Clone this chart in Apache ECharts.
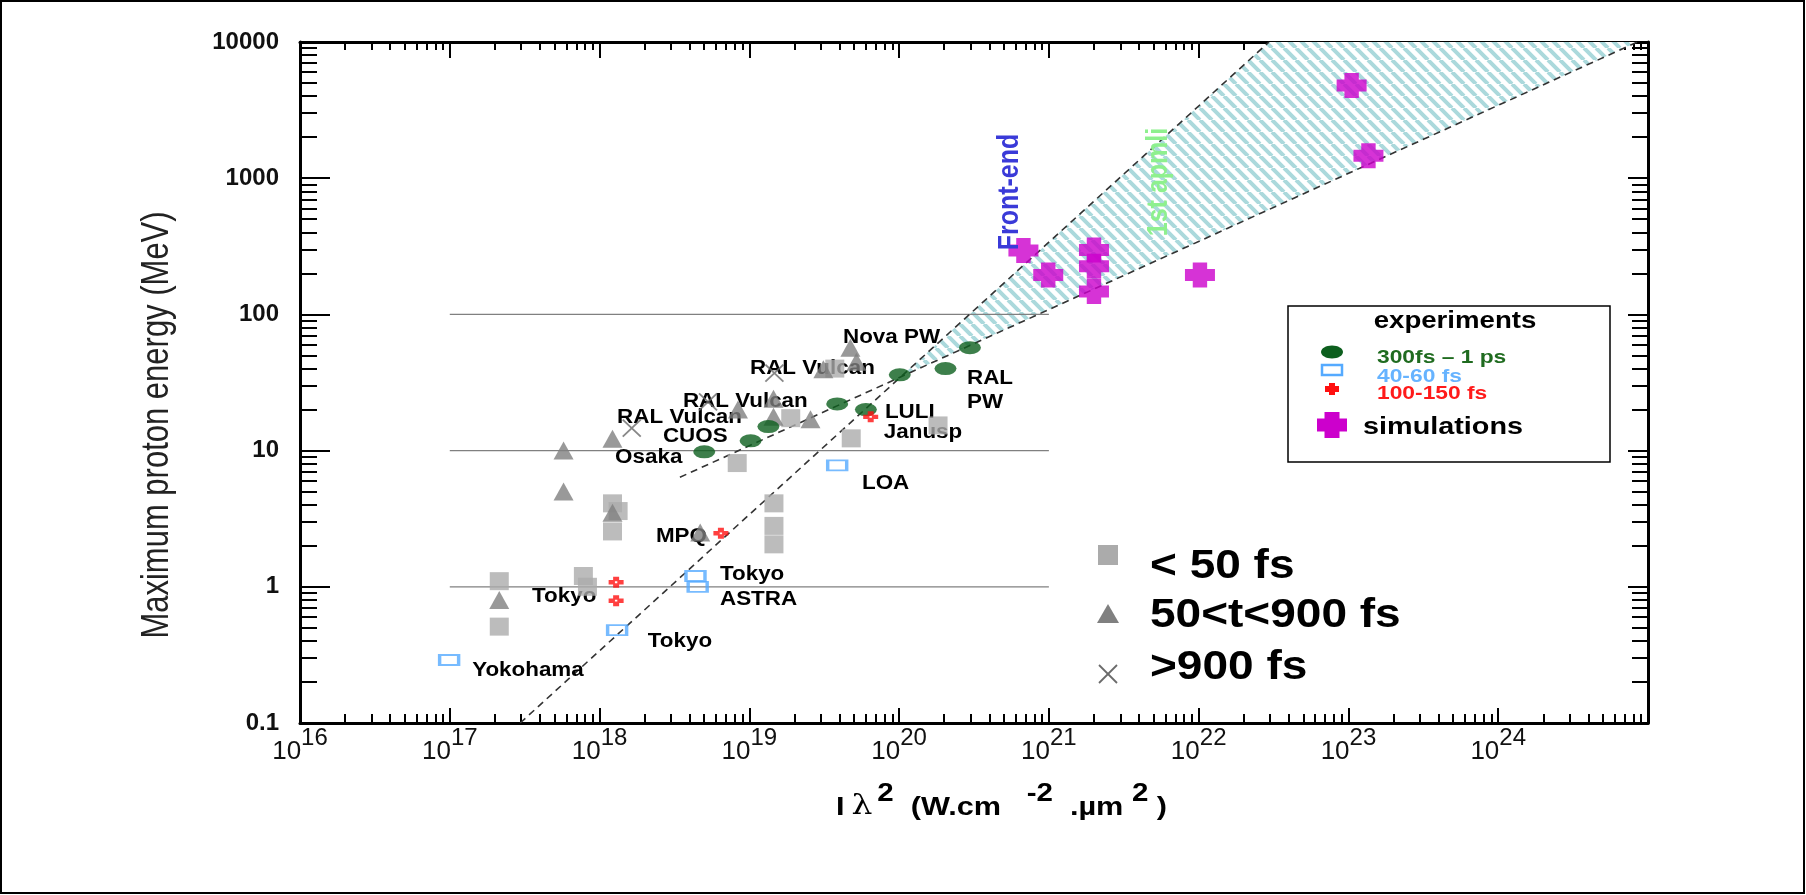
<!DOCTYPE html>
<html>
<head>
<meta charset="utf-8">
<title>Maximum proton energy</title>
<script src="https://cdn.jsdelivr.net/npm/echarts@6/dist/echarts.min.js"></script>
<style>
  html, body { margin: 0; padding: 0; background: #fff; }
  #chart { width: 1806px; height: 895px; }
</style>
</head>
<body>
<div id="chart"></div>
<script>
// values: [I.lambda^2 (W.cm-2.um2), max proton energy (MeV)]
var shortPulse = [ // < 50 fs
  [2.14e17, 1.1], [2.14e17, 0.51], [7.8e17, 1.2], [8.3e17, 1.0],
  [1.22e18, 4.1], [1.33e18, 3.6], [1.22e18, 2.55], [8.3e18, 8.1],
  [1.46e19, 4.1], [1.46e19, 2.8], [1.46e19, 2.05], [3.72e19, 40],
  [1.89e19, 17.3], [4.79e19, 12.3], [1.82e20, 15.3]
];
var midPulse = [ // 50<t<900 fs
  [2.14e17, 0.8], [5.75e17, 10], [5.75e17, 5.0], [1.22e18, 12.2], [1.22e18, 3.5],
  [4.7e18, 2.5], [8.4e18, 20], [1.45e19, 24], [1.45e19, 17.7], [2.56e19, 17],
  [3.12e19, 39.5], [4.73e19, 57], [5.19e19, 45]
];
var longPulse = [[1.64e18, 14.6], [5.3e18, 22.8], [1.47e19, 37]]; // >900 fs
var exp300fs = [[5.0e18, 9.8], [1.02e19, 11.8], [1.34e19, 15], [3.86e19, 22],
  [6.0e19, 20], [1.01e20, 36], [2.04e20, 40], [2.97e20, 57]];
var exp40fs = [[9.9e16, 0.29], [1.31e18, 0.48], [4.37e18, 1.2], [4.52e18, 1.0], [3.86e19, 7.8]];
var exp100fs = [[1.29e18, 1.08], [1.29e18, 0.79], [6.46e18, 2.47], [6.46e19, 17.7]];
var simulations = [[6.76e20, 294], [9.9e20, 195], [2.0e21, 297], [2.0e21, 226],
  [2.0e21, 147], [1.02e22, 195], [1.05e23, 4800], [1.36e23, 1460]];

// scaling lines and the hatched band between them
var lineLinear = [[2.95e17, 0.1], [2.95e22, 10000]];
var lineSqrt = [[3.44e18, 6.37], [8.5e24, 10000]];
var band = [[1.026e20, 34.8], [2.95e22, 10000], [8.5e24, 10000]];

// thin reference lines at 1, 10, 100 MeV
var refLevels = [1, 10, 100];
var refRange = [1e17, 1e21];

// annotations: [text, x, y] (left edge, vertical middle)
var labels = [
  ['Nova PW', 4.22e19, 68.2], ['RAL Vulcan', 1.01e19, 40.4], ['RAL Vulcan', 3.6e18, 23.1],
  ['RAL Vulcan', 1.31e18, 17.6], ['CUOS', 2.65e18, 12.6], ['Osaka', 1.27e18, 8.83],
  ['RAL', 2.84e20, 34.1], ['PW', 2.84e20, 22.4], ['LULI', 8.04e19, 18.9],
  ['Janusp', 7.9e19, 13.5], ['LOA', 5.65e19, 5.78], ['MPQ', 2.38e18, 2.36],
  ['Tokyo', 6.37e18, 1.24], ['ASTRA', 6.37e18, 0.81], ['Tokyo', 3.54e17, 0.855],
  ['Tokyo', 2.1e18, 0.394], ['Yokohama', 1.41e17, 0.241]
];

var FONT = '"Liberation Sans", Arial, sans-serif';

function stripes() {
  var s = 12, c = document.createElement('canvas');
  c.width = s; c.height = s;
  var g = c.getContext('2d');
  g.fillStyle = '#fff';
  g.fillRect(0, 0, s, s);
  g.strokeStyle = '#abd9dc';
  g.lineWidth = 4;
  g.beginPath();
  [-s, 0, s].forEach(function (k) { g.moveTo(k, 0); g.lineTo(k + s, s); });
  g.stroke();
  return c;
}
var stripeImg = stripes();

var myChart = echarts.init(document.getElementById('chart'));

function logAxis(pos, min, max, tickLen, minorLen, labels) {
  var ax = {
    type: 'log', logBase: 10, min: min, max: max, interval: 1,
    position: pos,
    axisLine: { show: true, onZero: false, lineStyle: { color: '#000', width: 3 } },
    axisTick: { show: true, inside: true, length: tickLen, lineStyle: { color: '#000', width: 2 } },
    minorTick: { show: true, splitNumber: 9, length: minorLen, lineStyle: { color: '#000', width: 2 } },
    splitLine: { show: false },
    minorSplitLine: { show: false },
    axisLabel: { show: false }
  };
  if (labels) ax.axisLabel = labels;
  return ax;
}

var xLabels = {
  show: true, margin: 3,
  formatter: function (v) {
    var e = Math.round(Math.log(v) / Math.LN10);
    if (e >= 25) return '';
    return '{b|10}{s|' + e + '}';
  },
  rich: {
    b: { fontSize: 26, fontFamily: FONT, color: '#111', verticalAlign: 'bottom' },
    s: { fontSize: 24, fontFamily: FONT, color: '#111', verticalAlign: 'bottom', padding: [0, 0, 15, 0] }
  }
};
var yLabels = {
  show: true, margin: 21, fontSize: 24, fontWeight: 'bold', fontFamily: FONT, color: '#111',
  formatter: function (v) {
    var e = Math.round(Math.log(v) / Math.LN10);
    return e < 0 ? '0.1' : String(Math.pow(10, e));
  }
};

var scatterBase = function (name, data, symbol, size, style, z) {
  return { type: 'scatter', name: name, data: data, symbol: symbol, symbolSize: size,
    itemStyle: style, z: z || 4, silent: true };
};

var series = [
  {
    type: 'custom', name: 'band', z: 1, silent: true, data: band,
    renderItem: function (params, api) {
      if (params.dataIndex !== 0) return null;
      var pts = band.map(function (p) { return api.coord(p); });
      return { type: 'polygon', shape: { points: pts },
        style: { fill: { image: stripeImg, repeat: 'repeat' } } };
    }
  }
];
refLevels.forEach(function (lv) {
  series.push({ type: 'line', silent: true, symbol: 'none', z: 1,
    data: [[refRange[0], lv], [refRange[1], lv]],
    lineStyle: { color: '#808080', width: 1.3 } });
});
[lineLinear, lineSqrt].forEach(function (ln) {
  series.push({ type: 'line', silent: true, symbol: 'none', z: 2, data: ln,
    lineStyle: { color: '#333', width: 1.6, type: [7, 5] } });
});
series.push({
  type: 'custom', name: 'labels', z: 3, silent: true,
  data: labels.map(function (l) { return [l[1], l[2]]; }),
  renderItem: function (params, api) {
    var p = api.coord([api.value(0), api.value(1)]);
    return { type: 'text', x: p[0], y: p[1], scaleX: 1.12,
      style: { text: labels[params.dataIndex][0], fill: '#000',
        font: 'bold 20px ' + FONT, align: 'left', verticalAlign: 'middle',
        textAlign: 'left', textVerticalAlign: 'middle' } };
  }
});
series.push(scatterBase('< 50 fs', shortPulse, 'rect', [19, 18], { color: '#ababab' }));
series.push(scatterBase('50<t<900 fs', midPulse, 'triangle', [20, 18], { color: '#808080' }));
series.push(scatterBase('>900 fs', longPulse, 'path://M0,0L10,10M10,0L0,10', [18, 17],
  { color: 'none', borderColor: '#6a6a6a', borderWidth: 1.8 }));
series.push(scatterBase('300fs – 1 ps', exp300fs, 'path://M0,5A10,5,0,1,1,20,5A10,5,0,1,1,0,5Z', [22, 13],
  { color: '#0d5f1e' }, 5));
series.push(scatterBase('40-60 fs', exp40fs, 'rect', [19, 10],
  { color: 'rgba(255,255,255,0)', borderColor: '#55aaff', borderWidth: 2.5 }, 5));
series.push(scatterBase('100-150 fs', exp100fs,
  'path://M3,0H7V3H10V7H7V10H3V7H0V3H3Z M4.2,4.2V5.8H5.8V4.2Z', [15, 11], { color: '#ff1010' }, 5));
series.push(scatterBase('simulations', simulations,
  'path://M2.6,0H7.4V2.6H10V7.4H7.4V10H2.6V7.4H0V2.6H2.6Z', [30, 25], { color: '#cc00cc' }, 6));

function txt(x, y, text, font, color, opts) {
  var o = { type: 'text', x: x, y: y, z: 10,
    style: { text: text, font: font, fill: color, align: 'left', verticalAlign: 'middle',
      textAlign: 'left', textVerticalAlign: 'middle' } };
  for (var k in (opts || {})) o[k] = opts[k];
  return o;
}

var graphic = [
  { type: 'rect', shape: { x: 1, y: 1, width: 1803, height: 892 }, style: { fill: 'none', stroke: '#000', lineWidth: 2 }, z: 10 },
  // y axis title
  { type: 'text', x: 157, y: 425, rotation: Math.PI / 2, scaleY: 1.25, z: 10,
    style: { text: 'Maximum proton energy (MeV)', font: '31px ' + FONT, fill: '#222',
      align: 'center', verticalAlign: 'middle', textAlign: 'center', textVerticalAlign: 'middle' } },
  // x axis title
  { type: 'text', x: 836, y: 801, scaleX: 1.18, z: 10,
    style: {
      text: '{n|I}{l|λ}{u|2}{n|  (W.cm   }{u|-2}{n|  .µm }{u|2}{n| )}',
      align: 'left', verticalAlign: 'middle', textAlign: 'left', textVerticalAlign: 'middle',
      rich: {
        n: { font: 'bold 26px ' + FONT, fill: '#000', verticalAlign: 'bottom' },
        l: { font: '28px "DejaVu Serif", serif', fill: '#000', verticalAlign: 'bottom', padding: [0, 4, 0, 6] },
        u: { font: 'bold 25px ' + FONT, fill: '#000', verticalAlign: 'bottom', padding: [0, 0, 14, 0] }
      }
    } },
  // rotated annotations
  { type: 'text', x: 1010, y: 192, rotation: Math.PI / 2, scaleY: 1.2, z: 10,
    style: { text: 'Front-end', font: 'bold 25px ' + FONT, fill: '#3a3ad8',
      align: 'center', verticalAlign: 'middle', textAlign: 'center', textVerticalAlign: 'middle' } },
  { type: 'text', x: 1159, y: 182, rotation: Math.PI / 2, scaleY: 1.2, z: 10,
    style: { text: '1st apmli', font: 'bold 25px ' + FONT, fill: '#8ef08e',
      align: 'center', verticalAlign: 'middle', textAlign: 'center', textVerticalAlign: 'middle' } },

  // experiments legend box
  { type: 'rect', shape: { x: 1288, y: 306, width: 322, height: 156 }, style: { fill: '#fff', stroke: '#000', lineWidth: 1.5 }, z: 9 },
  { type: 'text', x: 1455, y: 322, scaleX: 1.2, z: 10,
    style: { text: 'experiments', font: 'bold 23px ' + FONT, fill: '#000',
      align: 'center', verticalAlign: 'middle', textAlign: 'center', textVerticalAlign: 'middle' } },
  { type: 'ellipse', shape: { cx: 1332, cy: 352, rx: 11, ry: 6.5 }, style: { fill: '#0d5f1e' }, z: 10 },
  txt(1377, 358, '300fs – 1 ps', 'bold 19px ' + FONT, '#1f6b1f', { scaleX: 1.2 }),
  { type: 'rect', shape: { x: 1322, y: 365, width: 20, height: 10 }, style: { fill: 'none', stroke: '#55aaff', lineWidth: 2.5 }, z: 10 },
  txt(1377, 377, '40-60 fs', 'bold 19px ' + FONT, '#66b3ff', { scaleX: 1.2 }),
  { type: 'rect', shape: { x: 1325, y: 386, width: 14, height: 6 }, style: { fill: '#ff1010' }, z: 10 },
  { type: 'rect', shape: { x: 1329, y: 383, width: 6, height: 12 }, style: { fill: '#ff1010' }, z: 10 },
  txt(1377, 394, '100-150 fs', 'bold 19px ' + FONT, '#ff1a1a', { scaleX: 1.2 }),
  { type: 'rect', shape: { x: 1317, y: 418.5, width: 30, height: 13 }, style: { fill: '#cc00cc' }, z: 10 },
  { type: 'rect', shape: { x: 1324.5, y: 412, width: 15, height: 26 }, style: { fill: '#cc00cc' }, z: 10 },
  txt(1363, 427, 'simulations', 'bold 24px ' + FONT, '#000', { scaleX: 1.2 }),

  // pulse duration key
  { type: 'rect', shape: { x: 1098, y: 545, width: 20, height: 20 }, style: { fill: '#ababab' }, z: 10 },
  txt(1150, 567, '< 50 fs', 'bold 40px ' + FONT, '#000', { scaleX: 1.15 }),
  { type: 'polygon', shape: { points: [[1108, 604], [1097, 623], [1119, 623]] }, style: { fill: '#808080' }, z: 10 },
  txt(1150, 616, '50<t<900 fs', 'bold 40px ' + FONT, '#000', { scaleX: 1.15 }),
  { type: 'line', shape: { x1: 1099, y1: 665, x2: 1117, y2: 683 }, style: { stroke: '#6a6a6a', lineWidth: 1.8 }, z: 10 },
  { type: 'line', shape: { x1: 1117, y1: 665, x2: 1099, y2: 683 }, style: { stroke: '#6a6a6a', lineWidth: 1.8 }, z: 10 },
  txt(1150, 668, '>900 fs', 'bold 40px ' + FONT, '#000', { scaleX: 1.15 })
];

var option = {
  backgroundColor: '#fff',
  animation: false,
  grid: { left: 300, top: 42, right: 158, bottom: 172, containLabel: false },
  xAxis: [
    logAxis('bottom', 1e16, 1e25, 15, 9, xLabels),
    logAxis('top', 1e16, 1e25, 16, 8, null)
  ],
  yAxis: [
    logAxis('left', 0.1, 10000, 30, 17, yLabels),
    logAxis('right', 0.1, 10000, 20, 16, null)
  ],
  series: series,
  graphic: graphic
};
myChart.setOption(option);
</script>
</body>
</html>
